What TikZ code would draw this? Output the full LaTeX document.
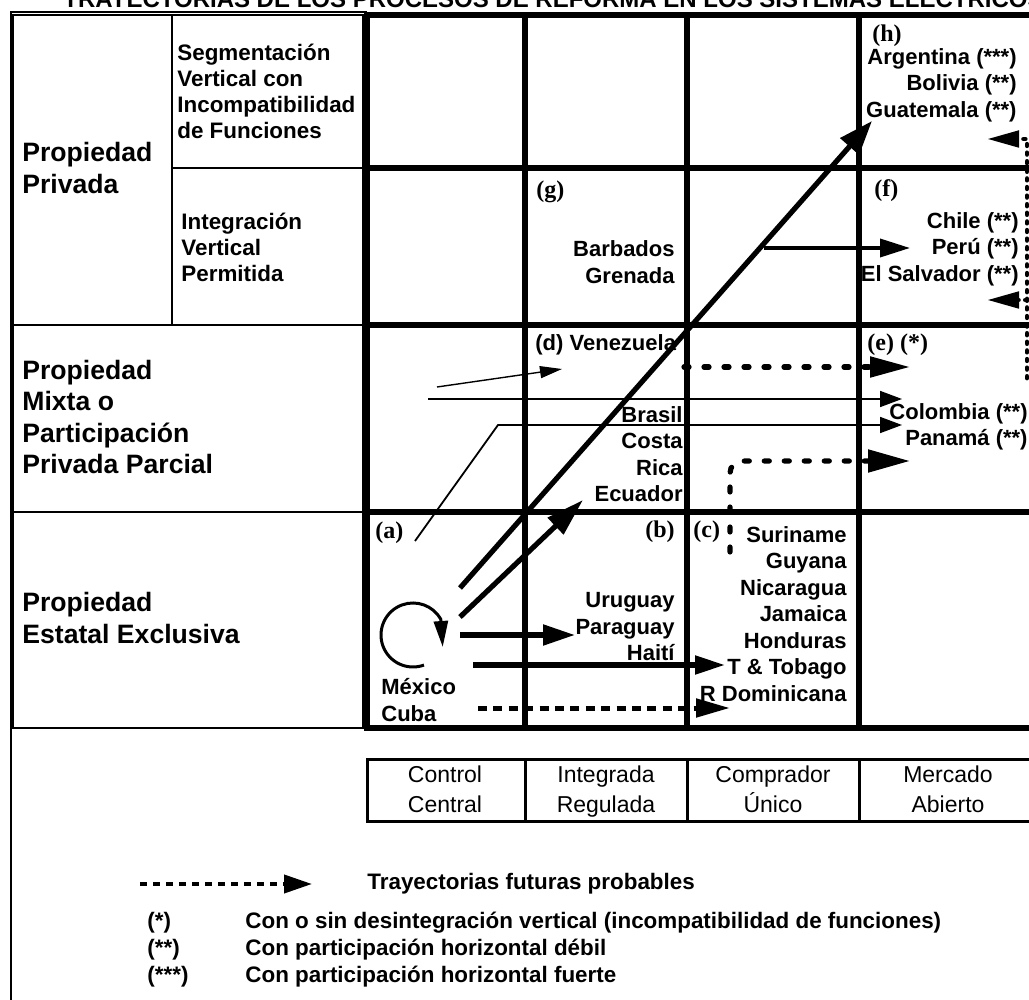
\documentclass[tikz,border=0pt]{standalone}
\usepackage{fontspec}
\setmainfont{Liberation Sans}
\newfontfamily\letrafont{Liberation Serif}
\usetikzlibrary{arrows.meta}

\begin{document}
\begin{tikzpicture}[x=0.5pt, y=-0.5pt,
  gridline/.style={line width=3pt, line cap=rect},
  cellline/.style={line width=1.3pt},
  colline/.style={line width=1.5pt},
  rowlabel/.style={anchor=west, align=left, inner sep=0pt, font=\fontsize{13.3}{15.8}\selectfont\bfseries},
  sublabel/.style={anchor=west, align=left, inner sep=0pt, font=\fontsize{11.2}{13}\selectfont\bfseries},
  country/.style={anchor=east, align=right, inner sep=0pt, font=\fontsize{11}{13.25}\selectfont\bfseries},
  letra/.style={inner sep=0pt, font=\fontsize{12}{14}\letrafont\bfseries},
  colname/.style={align=center, inner sep=0pt, font=\fontsize{11.5}{15}\selectfont, execute at begin node=\strut, execute at end node=\strut},
  legend/.style={anchor=west, inner sep=0pt, font=\fontsize{11.2}{13}\selectfont\bfseries},
  bigarrow/.style={line width=2.6pt, -{Triangle[length=16pt, width=10pt]}},
  midarrow/.style={line width=1.8pt, -{Triangle[length=15pt, width=9pt]}},
  thinarrow/.style={line width=0.9pt, -{Triangle[length=11pt, width=8pt]}},
  mexdash/.style={line width=2.5pt, dash pattern=on 4.5pt off 3.2pt, -{Triangle[length=17pt, width=9pt]}},
  futuro/.style={line width=2.6pt, line cap=round, dash pattern=on 2.5pt off 7.5pt, -{Triangle[length=20pt, width=10pt]}},
  puntos/.style={line width=2.4pt, line cap=round, dash pattern=on 0.8pt off 3.5pt, -{Triangle[length=16pt, width=8pt]}},
  leyenda/.style={line width=2pt, dash pattern=on 3.5pt off 3pt, -{Triangle[length=14pt, width=9pt]}}
]
  \useasboundingbox (0,0) rectangle (1029,1000);

  \node[anchor=base west, inner sep=0pt, font=\fontsize{12}{14}\selectfont\bfseries] (titulo) at (63,8) {TRAYECTORIAS DE LOS PROCESOS DE REFORMA EN LOS SISTEMAS ELÉCTRICOS};

  \draw[line width=0.6pt] (11,1010) -- (11,12) -- (367,12);
  \draw[cellline] (13,15) rectangle (363,728);
  \draw[cellline] (13,325) -- (363,325) (13,512) -- (363,512) (172,15) -- (172,325) (172,168) -- (363,168);

  \foreach \x in {367,525,687,859} \draw[gridline] (\x,15) -- (\x,728);
  \foreach \y in {15,168,325,512,728} \draw[gridline] (367,\y) -- (1040,\y);

  \node[rowlabel] (privada) at (22,168) {Propiedad\\Privada};
  \node[rowlabel] (mixta) at (22,417) {Propiedad\\Mixta o\\Participación\\Privada Parcial};
  \node[rowlabel] (estatal) at (22,618) {Propiedad\\Estatal Exclusiva};
  \node[sublabel] (segm) at (177,91) {Segmentación\\Vertical con\\Incompatibilidad\\de Funciones};
  \node[sublabel] (integ) at (181,247) {Integración\\Vertical\\Permitida};

  \node[letra, anchor=west] (ch) at (872,36) {(h)};
  \node[country] (paisesh) at (1017,85) {Argentina (***)\\Bolivia (**)\\Guatemala (**)};
  \node[letra, anchor=west] (cg) at (536,192) {(g)};
  \node[country] (paisesg) at (675,262) {Barbados\\Grenada};
  \node[letra, anchor=west] (cf) at (874,191) {(f)};
  \node[country] (paisesf) at (1019,249) {Chile (**)\\Perú (**)\\El Salvador (**)};
  \node[sublabel, font=\fontsize{11}{13}\selectfont\bfseries] (cd) at (535,345) {(d) Venezuela};
  \node[country] (paisesd) at (683,454) {Brasil\\Costa\\Rica\\Ecuador};
  \node[letra, anchor=west] (ce) at (867,345) {(e) (*)};
  \node[country] (paisese) at (1028,427) {Colombia (**)\\Panamá (**)};
  \node[letra, anchor=east] (cb) at (675,532) {(b)};
  \node[country] (paisesb) at (675,627) {Uruguay\\Paraguay\\Haití};
  \node[letra, anchor=west] (ca) at (375,533) {(a)};
  \node[sublabel, font=\fontsize{11}{13.25}\selectfont\bfseries] (paisesa) at (381,700) {México\\Cuba};
  \node[letra, anchor=west] (cc) at (693,532) {(c)};
  \node[country] (paisesc) at (847,614) {Suriname\\Guyana\\Nicaragua\\Jamaica\\Honduras\\T \& Tobago\\R Dominicana};

  \coordinate (bucle) at (413,635);
  \draw[line width=1.5pt, -{Triangle[length=13pt, width=7pt]}] (bucle) ++(70:32) arc[start angle=70, end angle=330, radius=32] -- ++(2,28);

  \coordinate (mexA) at (460,588);
  \coordinate (guaT) at (872,121);
  \coordinate (mexB) at (460,617);
  \coordinate (ecuT) at (583,500);
  \coordinate (mexC) at (460,635);
  \coordinate (parT) at (575,635);
  \coordinate (mexD) at (473,665);
  \coordinate (tobT) at (725,665);
  \coordinate (mexE) at (478,708);
  \coordinate (domT) at (730,708);
  \draw[bigarrow, -{Triangle[length=17pt, width=12pt]}] (mexA) -- (guaT);
  \draw[bigarrow, -{Triangle[length=19pt, width=11pt]}] (mexB) -- (ecuT);
  \draw[bigarrow] (mexC) -- (parT);
  \draw[bigarrow, -{Triangle[length=15pt, width=9pt]}] (mexD) -- (tobT);
  \draw[mexdash] (mexE) -- (domT);

  \coordinate (perA) at (764,248);
  \coordinate (perT) at (910,248);
  \draw[midarrow] (perA) -- (perT);

  \coordinate (aA) at (415,541);
  \coordinate (aB) at (498,425);
  \coordinate (colT2) at (902,425);
  \coordinate (mxA) at (428,399);
  \coordinate (colT1) at (902,399);
  \coordinate (mxB) at (437,387);
  \coordinate (venT) at (562,369);
  \draw[thinarrow] (aA) -- (aB) -- (colT2);
  \draw[thinarrow] (mxA) -- (colT1);
  \draw[thinarrow, line width=0.7pt, -{Triangle[length=11pt, width=6pt]}] (mxB) -- (venT);

  \coordinate (dA) at (684,367);
  \coordinate (eT1) at (910,367);
  \coordinate (cA) at (730,552);
  \coordinate (eT2) at (910,461);
  \draw[futuro] (dA) -- (eT1);
  \draw[futuro, rounded corners=6pt, -{Triangle[length=21pt, width=11pt]}] (cA) |- (eT2);

  \coordinate (eA) at (1027,378);
  \coordinate (hT) at (987,139);
  \coordinate (fB) at (1027,300);
  \coordinate (fT) at (987,300);
  \draw[puntos] (eA) |- (hT);
  \draw[puntos] (fB) -- (fT);

  \draw[colline] (367,759) rectangle (1040,821);
  \foreach \x in {525,687,859} \draw[colline] (\x,759) -- (\x,821);
  \node[colname] (ctrl) at (445,794) {Control\\Central};
  \node[colname] (integr) at (606,794) {Integrada\\Regulada};
  \node[colname] (compr) at (773,794) {Comprador\\Único};
  \node[colname] (merc) at (948,794) {Mercado\\Abierto};

  \coordinate (legA) at (140,884);
  \coordinate (legT) at (312,884);
  \draw[leyenda] (legA) -- (legT);
  \node[legend] (tray) at (367,884) {Trayectorias futuras probables};
  \node[legend] (ast1) at (147,923) {(*)};
  \node[legend] (nota1) at (245,923) {Con o sin desintegración vertical (incompatibilidad de funciones)};
  \node[legend] (ast2) at (147,950) {(**)};
  \node[legend] (nota2) at (245,950) {Con participación horizontal débil};
  \node[legend] (ast3) at (147,977) {(***)};
  \node[legend] (nota3) at (245,977) {Con participación horizontal fuerte};

\end{tikzpicture}
\end{document}
